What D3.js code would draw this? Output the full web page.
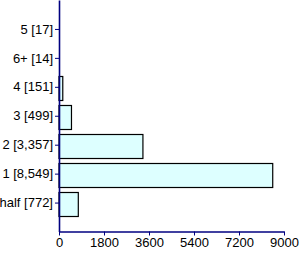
<!DOCTYPE html>
<html><head><meta charset="utf-8">
<script src="https://cdn.jsdelivr.net/npm/d3@7"></script>
<style>body{margin:0;background:#fff}svg{display:block}</style>
</head><body>
<script>
const categories = ["5 [17]", "6+ [14]", "4 [151]", "3 [499]", "2 [3,357]", "1 [8,549]", "half [772]"];
const values = [17, 14, 151, 499, 3357, 8549, 772];
const xTicks = [0, 1800, 3600, 5400, 7200, 9000];

const W = 300, H = 254;
const x0 = 59, x1 = 284, yTop = 0, yBot = 231.5;
const svg = d3.select("body").append("svg").attr("width", W).attr("height", H);
const x = d3.scaleLinear().domain([0, 9000]).range([x0, x1]);
const y = d3.scalePoint().domain(categories).range([yTop, yBot]).padding(1);
const bh = 24;

svg.selectAll("rect.bar").data(values).enter().append("rect")
  .attr("x", x(0))
  .attr("y", (d, i) => Math.round(y(categories[i]) - bh / 2 + 1) + 0.5)
  .attr("width", d => Math.max(0, x(d) - x(0)))
  .attr("height", bh)
  .attr("fill", "#DDFFFF")
  .attr("stroke", d => (x(d) - x(0) < 1 ? "none" : "#000"))
  .attr("stroke-width", 1.2);

const xAxis = svg.append("g").attr("transform", `translate(0,${yBot})`)
  .call(d3.axisBottom(x).tickValues(xTicks).tickFormat(d3.format("d")).tickSize(4).tickSizeOuter(0).tickPadding(2));
const yAxis = svg.append("g").attr("transform", `translate(${x0},0)`)
  .call(d3.axisLeft(y).tickSize(4).tickSizeOuter(0).tickPadding(2));
[xAxis, yAxis].forEach(g => {
  g.select(".domain").attr("stroke", "#000080").attr("stroke-width", 1.6);
  g.selectAll(".tick line").attr("stroke", "#000080");
  g.selectAll("text").attr("fill", "#000").style("font-family", "Liberation Sans, Arial, sans-serif").style("font-size", "13px");
});
</script>
</body></html>
